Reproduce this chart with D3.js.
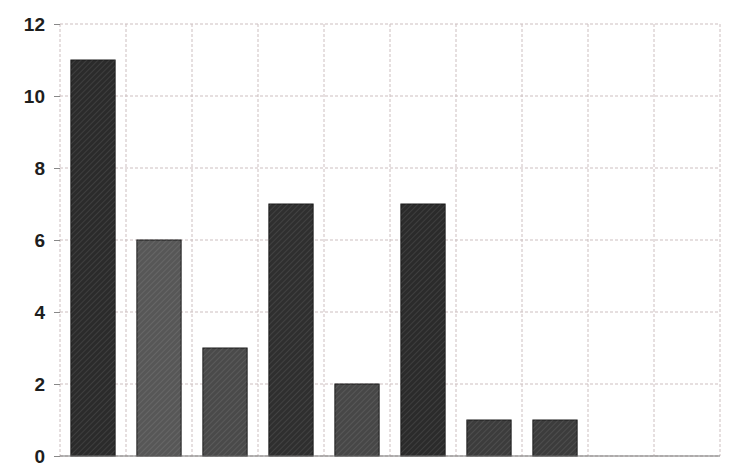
<!DOCTYPE html>
<meta charset="utf-8">
<html>
<head>
<script src="https://d3js.org/d3.v7.min.js"></script>
<style>
  body { margin: 0; background: #fff; }
  .grid line { stroke: #cdbfc0; stroke-dasharray: 3,2; stroke-width: 1; }
  .yaxis text { font-family: "Liberation Sans", Arial, sans-serif; font-size: 19px; font-weight: bold; fill: #1e1e1e; }
  .yaxis line { stroke: #888; }
</style>
</head>
<body>
<svg id="chart"></svg>
<script>
// values
var categories = ["A", "B", "C", "D", "E", "F", "G", "H", "I", "J"];
var counts = [11, 6, 3, 7, 2, 7, 1, 1, 0, 0];
var shades = ["#2b2b2b", "#575757", "#4a4a4a", "#2f2f2f", "#474747", "#2b2b2b", "#3c3c3c", "#3c3c3c", "#333", "#333"];
var yTicks = [0, 2, 4, 6, 8, 10, 12];

var data = categories.map(function(c, i) { return {cat: c, value: counts[i], shade: shades[i]}; });

var W = 733, H = 466;
var margin = {top: 24, right: 13, bottom: 10, left: 60},
    width = W - margin.left - margin.right,
    height = H - margin.top - margin.bottom;

var svg = d3.select("#chart").attr("width", W).attr("height", H);

// hatch pattern to mimic the printed texture
var defs = svg.append("defs");
var pat = defs.append("pattern")
    .attr("id", "hatch")
    .attr("patternUnits", "userSpaceOnUse")
    .attr("width", 4).attr("height", 4)
    .attr("patternTransform", "rotate(45)");
pat.append("line")
    .attr("x1", 0).attr("y1", 0).attr("x2", 0).attr("y2", 4)
    .style("stroke", "rgba(255,255,255,0.18)").style("stroke-width", 1);

var g = svg.append("g")
    .attr("transform", "translate(" + margin.left + "," + margin.top + ")");

var x = d3.scaleBand()
    .domain(categories)
    .range([0, width])
    .paddingInner(0.33)
    .paddingOuter(0.165);

var y = d3.scaleLinear()
    .domain([0, 12])
    .range([height, 0]);

// horizontal grid
g.append("g").attr("class", "grid")
  .selectAll("line")
  .data(yTicks)
  .enter().append("line")
    .attr("x1", 0).attr("x2", width)
    .attr("y1", function(d) { return y(d); })
    .attr("y2", function(d) { return y(d); });

// vertical grid at category boundaries
var step = x.step();
var bounds = d3.range(categories.length + 1).map(function(i) { return i * step; });
g.append("g").attr("class", "grid")
  .selectAll("line")
  .data(bounds)
  .enter().append("line")
    .attr("x1", function(d) { return d; }).attr("x2", function(d) { return d; })
    .attr("y1", 0).attr("y2", height);

// bars
var bars = g.selectAll(".bar")
  .data(data.filter(function(d) { return d.value > 0; }))
  .enter();

bars.append("rect")
    .attr("class", "bar")
    .attr("x", function(d) { return x(d.cat); })
    .attr("y", function(d) { return y(d.value); })
    .attr("width", x.bandwidth())
    .attr("height", function(d) { return height - y(d.value); })
    .attr("fill", function(d) { return d.shade; })
    .style("stroke", "#1a1a1a").style("stroke-width", 1);

bars.append("rect")
    .attr("x", function(d) { return x(d.cat); })
    .attr("y", function(d) { return y(d.value); })
    .attr("width", x.bandwidth())
    .attr("height", function(d) { return height - y(d.value); })
    .attr("fill", "url(#hatch)");

// baseline
g.append("line")
    .attr("x1", 0).attr("x2", width)
    .attr("y1", height).attr("y2", height)
    .style("stroke", "#777").style("stroke-width", 1);

// y axis
var yAxis = g.append("g").attr("class", "yaxis")
    .call(d3.axisLeft(y).tickValues(yTicks).tickSize(6).tickPadding(9));
yAxis.select(".domain").remove();
</script>
</body>
</html>
